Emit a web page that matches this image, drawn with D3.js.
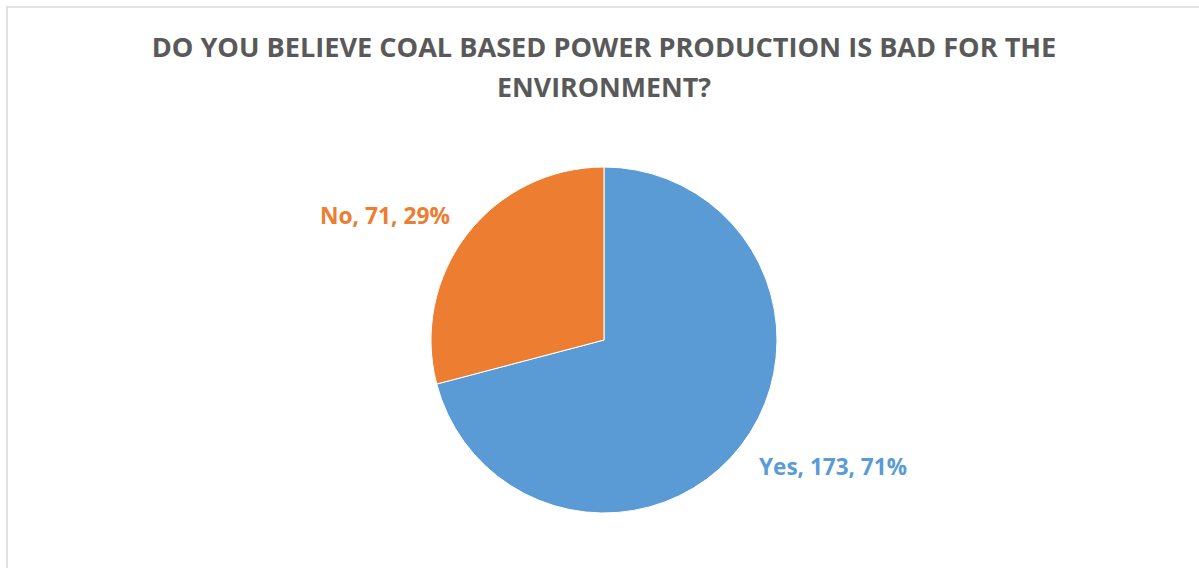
<!DOCTYPE html>
<html><head><meta charset="utf-8">
<script src="https://cdn.jsdelivr.net/npm/d3@7"></script>
<style>html,body{margin:0;padding:0;background:#fff;overflow:hidden}</style>
</head><body>
<svg id="c" width="1199" height="568"></svg>
<script>
const categories = ["Yes", "No"];
const values = [173, 71];
const percents = ["71%", "29%"];
const colors = ["#5B9BD5", "#ED7D31"];
const titleLines = ["DO YOU BELIEVE COAL BASED POWER PRODUCTION IS BAD FOR THE", "ENVIRONMENT?"];

const svg = d3.select("#c");
svg.append("rect").attr("x", 7).attr("y", 7).attr("width", 1300).attr("height", 700)
  .attr("fill", "#fff").attr("stroke", "#d9d9d9").attr("stroke-width", 1.5);

const font = "'Open Sans', 'DejaVu Sans', sans-serif";
const titleSpecs = [{y: 57, w: 905}, {y: 97, w: 214}];
titleLines.forEach((t, i) => {
  const el = svg.append("text").attr("x", 604).attr("y", titleSpecs[i].y)
    .attr("text-anchor", "middle").attr("font-family", font).attr("font-weight", "bold")
    .attr("font-size", 24).attr("fill", "#595959").text(t);
  const w = el.node().getComputedTextLength();
  el.attr("font-size", 24 * titleSpecs[0].w / (i === 0 ? w : w * titleSpecs[0].w / titleSpecs[0].w) * (i === 0 ? 1 : titleSpecs[i].w / titleSpecs[0].w));
});

const cx = 604, cy = 340, r = 173;
const pie = d3.pie().sort(null).value(d => d.v);
const data = categories.map((c, i) => ({c, v: values[i], p: percents[i], col: colors[i]}));
const arcs = pie(data);
const arc = d3.arc().innerRadius(0).outerRadius(r);
const g = svg.append("g").attr("transform", `translate(${cx},${cy})`);
g.selectAll("path").data(arcs).join("path")
  .attr("d", arc).attr("fill", d => d.data.col)
  .attr("stroke", "#fff").attr("stroke-width", 1);

const labelPos = [{x: 759, y: 475, w: 148}, {x: 320, y: 224, w: 130}];
data.forEach((d, i) => {
  const el = svg.append("text").attr("x", labelPos[i].x).attr("y", labelPos[i].y)
    .attr("font-family", font).attr("font-weight", "bold").attr("font-size", 20)
    .attr("fill", d.col).text(`${d.c}, ${d.v}, ${d.p}`);
  const w = el.node().getComputedTextLength();
  el.attr("font-size", 20 * labelPos[i].w / w);
});
</script>
</body></html>
